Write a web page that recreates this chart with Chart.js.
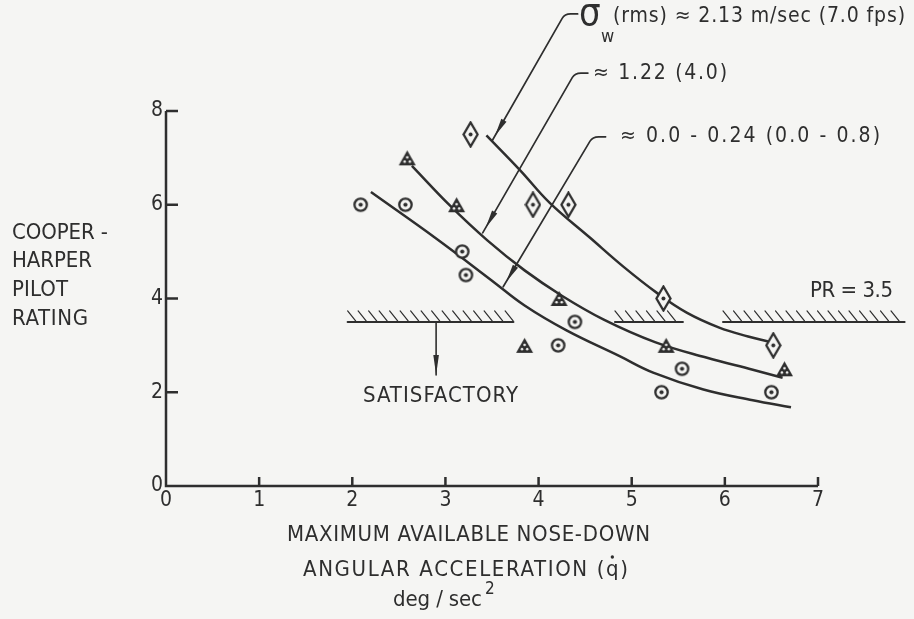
<!DOCTYPE html>
<html>
<head>
<meta charset="utf-8">
<title>Pilot rating vs nose-down angular acceleration</title>
<script src="https://cdn.jsdelivr.net/npm/chart.js@4.4.1/dist/chart.umd.min.js"></script>
<style>
  html, body { margin: 0; padding: 0; background: #f5f5f3; }
  canvas { display: block; }
</style>
</head>
<body>
<canvas id="rating_chart" width="914" height="619"></canvas>
<script>
const INK = "#2e2e2e";
const PAPER = "#f5f5f3";
const FONT = "'Liberation Sans Narrow', 'DejaVu Sans Condensed', 'Open Sans', sans-serif";

// pilot ratings, one group per gust level
const calm_x = [2.09, 2.57, 3.18, 3.22, 4.39, 4.21, 5.54, 5.32, 6.50];
const calm_rating = [6.0, 6.0, 5.0, 4.5, 3.5, 3.0, 2.5, 2.0, 2.0];
const mid_x = [2.59, 3.12, 4.22, 3.85, 5.37, 6.64];
const mid_rating = [7.0, 6.0, 4.0, 3.0, 3.0, 2.5];
const high_x = [3.27, 3.94, 4.32, 5.34, 6.52];
const high_rating = [7.5, 6.0, 6.0, 4.0, 3.0];

// faired curves through each group
const calm_fit_x = [2.20, 2.90, 3.50, 3.85, 4.30, 4.87, 5.23, 5.77, 6.30, 6.71];
const calm_fit_y = [6.27, 5.28, 4.38, 3.85, 3.32, 2.77, 2.42, 2.06, 1.83, 1.68];
const mid_fit_x = [2.64, 3.05, 3.45, 3.85, 4.25, 4.70, 5.25, 5.80, 6.30, 6.62];
const mid_fit_y = [6.83, 5.98, 5.24, 4.60, 4.06, 3.55, 3.07, 2.74, 2.48, 2.31];
const high_fit_x = [3.44, 3.80, 4.12, 4.55, 4.91, 5.27, 5.59, 5.94, 6.25, 6.47];
const high_fit_y = [7.48, 6.74, 6.04, 5.30, 4.68, 4.12, 3.70, 3.38, 3.19, 3.08];

const x_ticks = [0, 1, 2, 3, 4, 5, 6, 7];
const y_ticks = [0, 2, 4, 6, 8];

// satisfactory boundary and where it is drawn
const pr_limit = 3.5;
const pr_spans = [[1.95, 3.73], [4.82, 5.55], [5.98, 7.93]];
const satisfactory_arrow = { x: 2.9, to: 2.37 };

// leader lines from the gust labels down to the curves
const leaders = [
  { tip: [3.50, 7.36], corner: [4.28, 10.07] },
  { tip: [3.40, 5.40], corner: [4.39, 8.81] },
  { tip: [3.62, 4.25], corner: [4.58, 7.45] },
];

const to_points = (xs, ys) => xs.map((x, i) => ({ x, y: ys[i] }));

const make_marker = (w, h, draw) => {
  const c = document.createElement("canvas");
  c.width = w;
  c.height = h;
  const g = c.getContext("2d");
  g.lineWidth = 2.3;
  g.strokeStyle = INK;
  g.fillStyle = INK;
  draw(g, w / 2, h / 2);
  return c;
};

const dot = (g, cx, cy, r, color) => {
  g.fillStyle = color;
  g.beginPath();
  g.arc(cx, cy, r, 0, Math.PI * 2);
  g.fill();
};

const circle_marker = make_marker(17, 17, (g, cx, cy) => {
  g.fillStyle = PAPER;
  g.beginPath();
  g.arc(cx, cy, 6.2, 0, Math.PI * 2);
  g.fill();
  g.stroke();
  dot(g, cx, cy, 2.1, INK);
});

const triangle_marker = make_marker(19, 17, (g, cx, cy) => {
  g.beginPath();
  g.moveTo(cx, 1);
  g.lineTo(18, 16);
  g.lineTo(1, 16);
  g.closePath();
  g.fill();
  dot(g, cx, 8, 1.3, PAPER);
  dot(g, cx - 2.6, 12.3, 1.3, PAPER);
  dot(g, cx + 2.6, 12.3, 1.3, PAPER);
});

const diamond_marker = make_marker(17, 27, (g, cx, cy) => {
  g.fillStyle = PAPER;
  g.beginPath();
  g.moveTo(cx, 1.5);
  g.lineTo(15.5, cy);
  g.lineTo(cx, 25.5);
  g.lineTo(1.5, cy);
  g.closePath();
  g.fill();
  g.stroke();
  dot(g, cx, cy, 2, INK);
});

const marker_set = (data, style) => ({
  data,
  pointStyle: style,
  pointRadius: 8,
  showLine: false,
  order: 0,
  clip: false,
});

const curve = (data) => ({
  data,
  showLine: true,
  borderColor: INK,
  borderWidth: 2.5,
  pointRadius: 0,
  tension: 0.4,
  fill: false,
  order: 1,
  clip: false,
});

// letters are spread to a given width, like the hand lettering
const spaced_text = (ctx, text, left, right, cy, size) => {
  ctx.font = `${size}px ${FONT}`;
  ctx.letterSpacing = "0px";
  const natural = ctx.measureText(text).width;
  const gap = (right - left - natural) / Math.max(1, text.length - 1);
  ctx.letterSpacing = `${gap}px`;
  ctx.textAlign = "left";
  ctx.textBaseline = "middle";
  ctx.fillText(text, left, cy);
  ctx.letterSpacing = "0px";
  return gap;
};

const wedge = (ctx, tip, from, near, far, half) => {
  const dx = tip[0] - from[0];
  const dy = tip[1] - from[1];
  const len = Math.hypot(dx, dy);
  const ux = dx / len;
  const uy = dy / len;
  const px = -uy * half;
  const py = ux * half;
  const a = [tip[0] - ux * near, tip[1] - uy * near];
  const b = [tip[0] - ux * far, tip[1] - uy * far];
  ctx.beginPath();
  ctx.moveTo(a[0], a[1]);
  ctx.lineTo(b[0] + px, b[1] + py);
  ctx.lineTo(b[0] - px, b[1] - py);
  ctx.closePath();
  ctx.fill();
};

const sketch = {
  id: "sketch",
  beforeDraw(chart) {
    const { ctx, width, height } = chart;
    ctx.save();
    ctx.fillStyle = PAPER;
    ctx.fillRect(0, 0, width, height);
    ctx.restore();
  },
  beforeDatasetsDraw(chart) {
    const { ctx } = chart;
    const { x, y } = chart.scales;
    const x0 = x.getPixelForValue(0);
    const y0 = y.getPixelForValue(0);
    ctx.save();
    ctx.strokeStyle = INK;
    ctx.lineWidth = 2.5;
    ctx.beginPath();
    ctx.moveTo(x0, y.getPixelForValue(8));
    ctx.lineTo(x0, y0);
    ctx.lineTo(x.getPixelForValue(7), y0);
    // inward ticks
    y_ticks.filter((v) => v > 0).forEach((v) => {
      const p = y.getPixelForValue(v);
      ctx.moveTo(x0, p);
      ctx.lineTo(x0 + 12, p);
    });
    x_ticks.filter((v) => v > 0).forEach((v) => {
      const p = x.getPixelForValue(v);
      ctx.moveTo(p, y0);
      ctx.lineTo(p, y0 - 9);
    });
    ctx.stroke();
    ctx.restore();
  },
  afterDatasetsDraw(chart) {
    const { ctx } = chart;
    const { x, y } = chart.scales;
    const pt = (v) => [x.getPixelForValue(v[0]), y.getPixelForValue(v[1])];
    ctx.save();
    ctx.strokeStyle = INK;
    ctx.fillStyle = INK;
    ctx.lineCap = "round";

    // PR = 3.5 boundary with hatching
    const yb = y.getPixelForValue(pr_limit);
    pr_spans.forEach(([a, b]) => {
      const xa = x.getPixelForValue(a);
      const xb = x.getPixelForValue(b);
      ctx.lineWidth = 2;
      ctx.beginPath();
      ctx.moveTo(xa, yb);
      ctx.lineTo(xb, yb);
      ctx.stroke();
      ctx.lineWidth = 1.2;
      ctx.beginPath();
      for (let h = xa; h + 8 <= xb; h += 10.5) {
        ctx.moveTo(h, yb - 11);
        ctx.lineTo(h + 8, yb - 1);
      }
      ctx.stroke();
    });

    // arrow toward the satisfactory region
    const sx = x.getPixelForValue(satisfactory_arrow.x);
    const sy = y.getPixelForValue(satisfactory_arrow.to);
    ctx.lineWidth = 1.6;
    ctx.beginPath();
    ctx.moveTo(sx, yb);
    ctx.lineTo(sx, sy);
    ctx.stroke();
    wedge(ctx, [sx, sy], [sx, yb], 0, 20, 2.8);

    // leaders with hooked ends
    leaders.forEach(({ tip, corner }) => {
      const t = pt(tip);
      const c = pt(corner);
      const dx = c[0] - t[0];
      const dy = c[1] - t[1];
      const len = Math.hypot(dx, dy);
      ctx.lineWidth = 1.7;
      ctx.beginPath();
      ctx.moveTo(t[0], t[1]);
      ctx.lineTo(c[0] - (dx / len) * 5, c[1] - (dy / len) * 5);
      ctx.quadraticCurveTo(c[0], c[1], c[0] + 6, c[1]);
      ctx.lineTo(c[0] + 13, c[1]);
      ctx.stroke();
      wedge(ctx, t, c, 6, 24, 3);
    });

    // labels
    spaced_text(ctx, "SATISFACTORY", 363, 518, 396, 22);
    spaced_text(ctx, "PR = 3.5", 810, 893, 291, 22);

    ctx.font = `38px ${FONT}`;
    ctx.textAlign = "left";
    ctx.textBaseline = "alphabetic";
    ctx.fillText("σ", 579, 25);
    ctx.font = `18px ${FONT}`;
    ctx.fillText("w", 601, 42);
    spaced_text(ctx, "(rms) ≈ 2.13 m/sec (7.0 fps)", 613, 905, 17, 21);
    spaced_text(ctx, "≈ 1.22 (4.0)", 593, 727, 74, 21);
    spaced_text(ctx, "≈ 0.0 - 0.24 (0.0 - 0.8)", 620, 880, 137, 21);

    // axis titles
    const y_title = [
      ["COOPER -", 96, 233.5],
      ["HARPER", 80, 261.5],
      ["PILOT", 56, 290],
      ["RATING", 76, 319],
    ];
    y_title.forEach(([text, w, cy]) => spaced_text(ctx, text, 12, 12 + w, cy, 22));

    spaced_text(ctx, "MAXIMUM AVAILABLE NOSE-DOWN", 287, 650, 535, 22);
    const head = "ANGULAR ACCELERATION (";
    const gap = spaced_text(ctx, head + "q)", 303, 628, 570, 22);
    ctx.font = `22px ${FONT}`;
    ctx.letterSpacing = "0px";
    const qx = 303 + ctx.measureText(head).width + gap * head.length + ctx.measureText("q").width / 2;
    dot(ctx, qx, 557, 1.7, INK);

    spaced_text(ctx, "deg / sec", 393, 482, 600, 22);
    ctx.font = `17px ${FONT}`;
    ctx.textAlign = "left";
    ctx.textBaseline = "alphabetic";
    ctx.fillText("2", 485, 594);
    ctx.restore();
  },
};

const tick_font = { family: FONT, size: 21 };

new Chart(document.getElementById("rating_chart"), {
  type: "scatter",
  data: {
    datasets: [
      marker_set(to_points(calm_x, calm_rating), circle_marker),
      marker_set(to_points(mid_x, mid_rating), triangle_marker),
      marker_set(to_points(high_x, high_rating), diamond_marker),
      curve(to_points(calm_fit_x, calm_fit_y)),
      curve(to_points(mid_fit_x, mid_fit_y)),
      curve(to_points(high_fit_x, high_fit_y)),
    ],
  },
  options: {
    responsive: false,
    animation: false,
    layout: { padding: { top: 111, right: 96, bottom: 0, left: 0 } },
    plugins: {
      legend: { display: false },
      tooltip: { enabled: false },
    },
    scales: {
      x: {
        type: "linear",
        min: 0,
        max: 7,
        afterBuildTicks: (s) => { s.ticks = x_ticks.map((value) => ({ value })); },
        afterFit: (s) => { s.height = 133; },
        ticks: { color: INK, font: tick_font, padding: 2, maxRotation: 0 },
        grid: { display: false, drawTicks: false },
        border: { display: false },
      },
      y: {
        type: "linear",
        min: 0,
        max: 8,
        afterBuildTicks: (s) => { s.ticks = y_ticks.map((value) => ({ value })); },
        afterFit: (s) => { s.width = 166; },
        ticks: { color: INK, font: tick_font, padding: 3 },
        grid: { display: false, drawTicks: false },
        border: { display: false },
      },
    },
  },
  plugins: [sketch],
});
</script>
</body>
</html>
